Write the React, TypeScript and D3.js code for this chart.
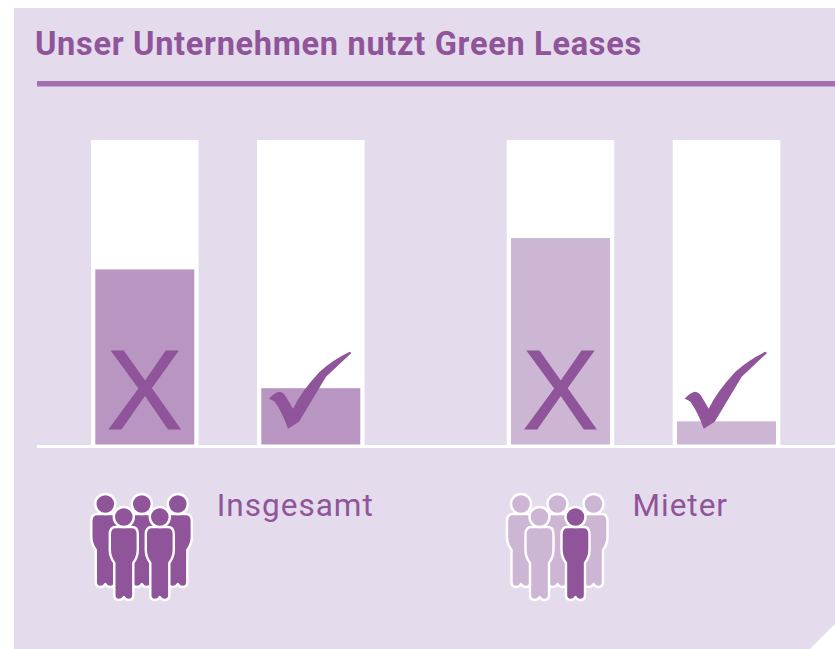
import React from "react";
import * as d3 from "d3";

const title = "Unser Unternehmen nutzt Green Leases";
const groups = ["Insgesamt", "Mieter"];
const answers = ["nein", "ja"];
const insgesamtValues = [57.5, 18.5];
const mieterValues = [67.8, 7.6];
const seriesValues = [insgesamtValues, mieterValues];
const highlightedPeople = [5, 1];

const BG = "#e4dcec";
const DARK = "#8f5499";
const RULE = "#a36fae";
const BAR_FILL = ["#b996c2", "#ccb6d4"];
const ICON_LIGHT = "#ccb6d4";

const width = 835;
const height = 649;
const colW = 107.5;
const barW = 99;
const baseY = 444.5;
const x0 = d3.scalePoint<string>().domain(groups).range([227.8, 643.5]);
const x1 = d3.scalePoint<string>().domain(answers).range([-83, 83]);
const y = d3.scaleLinear().domain([0, 100]).range([baseY, 140]);

const personPath =
  "M-8,10 Q-14,10 -14,17 L-14,33 Q-14,40 -9.5,46 L-9.5,78 Q-9.5,83 -5,83 Q-1.5,83 0,80 Q1.5,83 5,83 Q9.5,83 9.5,78 L9.5,46 Q14,40 14,33 L14,17 Q14,10 8,10 Z";
const checkPath =
  "M0,47 Q5,41 10.7,40 Q15,41 17,45 L24,57 Q32,40 50.7,20 Q64,8 80.7,0 Q83,1 81.3,2.3 L57,25 L30,70 L19,77 Q13,60 5.7,50 Q3,48 0,47 Z";

const people = [
  { dx: -122.5, dy: 504 },
  { dx: -86, dy: 504 },
  { dx: -50, dy: 504 },
  { dx: -104, dy: 517 },
  { dx: -68, dy: 517 },
];

function Person({ x, yy, fill }: { x: number; yy: number; fill: string }) {
  return (
    <g transform={`translate(${x},${yy})`} stroke="#fff" strokeWidth={2.4} fill={fill}>
      <path d={personPath} strokeLinejoin="round" />
      <circle r={10} />
    </g>
  );
}

export default function App() {
  return (
    <svg
      width={width}
      height={height}
      style={{ position: "absolute", left: 0, top: 0, background: "#fff" }}
    >
      <path d="M14,8 L835,8 L835,624 L810,649 L14,649 Z" fill={BG} />
      <text
        x={35}
        y={55}
        fill={DARK}
        fontFamily="Roboto, sans-serif"
        fontWeight={700}
        fontSize={32.5}
        letterSpacing={0.7}
      >
        {title}
      </text>
      <rect x={37} y={81} width={798} height={5.5} fill={RULE} />

      {groups.map((g, gi) => {
        const cx = x0(g)!;
        return (
          <g key={g}>
            {answers.map((a, ai) => {
              const c = cx + x1(a)!;
              const v = seriesValues[gi][ai];
              return (
                <g key={a}>
                  <rect x={c - colW / 2} y={y(100)} width={colW} height={baseY + 1 - y(100)} fill="#fff" />
                  <rect x={c - barW / 2} y={y(v)} width={barW} height={baseY - y(v)} fill={BAR_FILL[gi]} />
                  {a === "nein" ? (
                    <text
                      x={c}
                      y={429}
                      textAnchor="middle"
                      fill={DARK}
                      stroke={DARK}
                      strokeWidth={1.2}
                      fontFamily="'Liberation Sans', sans-serif"
                      fontWeight={400}
                      fontSize={113}
                    >
                      X
                    </text>
                  ) : (
                    <path d={checkPath} fill={DARK} transform={`translate(${c - 41.8},351.7)`} />
                  )}
                </g>
              );
            })}
            {people.map((p, i) => (
              <Person
                key={i}
                x={cx + p.dx}
                yy={p.dy}
                fill={i >= people.length - highlightedPeople[gi] ? DARK : ICON_LIGHT}
              />
            ))}
            <text
              x={cx - 11}
              y={516}
              fill={DARK}
              fontFamily="Roboto, sans-serif"
              fontWeight={400}
              fontSize={31.5}
              letterSpacing={1}
            >
              {g}
            </text>
          </g>
        );
      })}
      <rect x={37} y={445} width={798} height={3} fill="#fff" />
    </svg>
  );
}
